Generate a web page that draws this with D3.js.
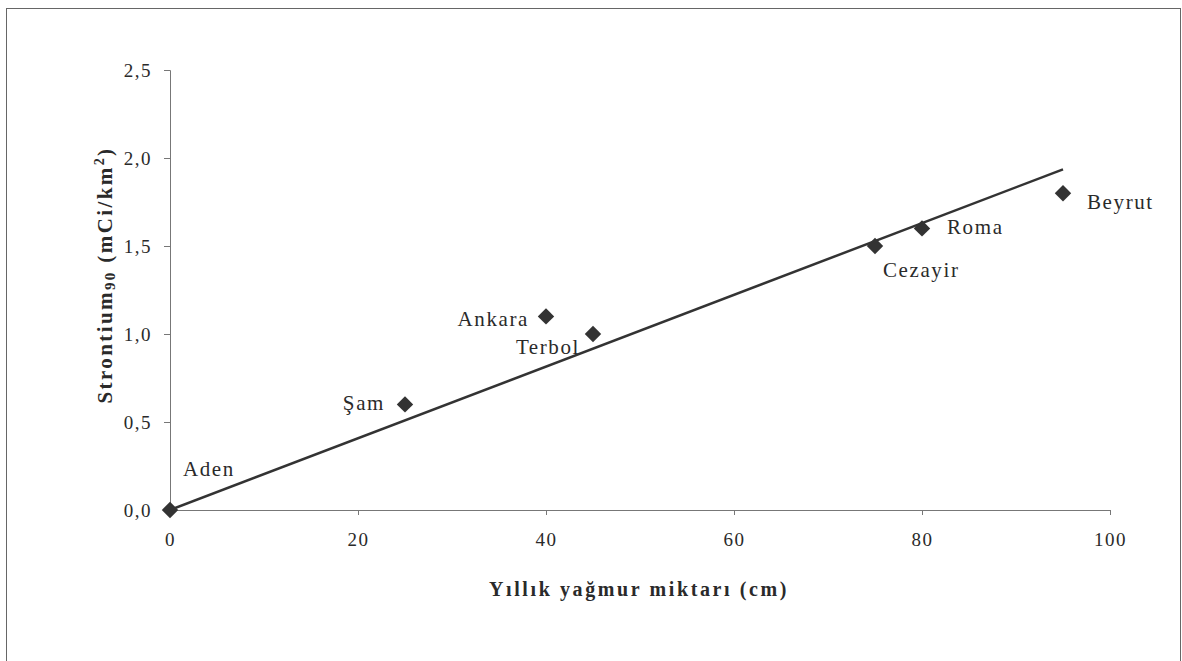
<!DOCTYPE html>
<html>
<head>
<meta charset="utf-8">
<script src="https://cdn.jsdelivr.net/npm/d3@7/dist/d3.min.js"></script>
<style>
  html, body { margin: 0; padding: 0; background: #fff; }
  svg { display: block; }
  text { font-family: "Liberation Serif", "Times New Roman", serif; fill: #2a2a2a; }
</style>
</head>
<body>
<svg id="chart" width="1182" height="661"></svg>
<script>
// ---- data ----
const cities    = ["Aden", "Şam", "Ankara", "Terbol", "Cezayir", "Roma", "Beyrut"];
const rainfall  = [0, 25, 40, 45, 75, 80, 95];          // Yıllık yağmur miktarı (cm)
const strontium = [0.0, 0.6, 1.1, 1.0, 1.5, 1.6, 1.8];  // Strontium90 (mCi/km2)
const xTicks = [0, 20, 40, 60, 80, 100];
const yTicks = [0, 0.5, 1.0, 1.5, 2.0, 2.5];
const trendX = [0, 95];

// label placement (offsets from marker, px) and anchors
const labelPos = {
  "Aden":    {dx: 13,  dy: -34, anchor: "start"},
  "Şam":     {dx: -20, dy: 6,   anchor: "end"},
  "Ankara":  {dx: -17, dy: 10,  anchor: "end"},
  "Terbol":  {dx: -13, dy: 20,  anchor: "end"},
  "Cezayir": {dx: 8,   dy: 31,  anchor: "start"},
  "Roma":    {dx: 25,  dy: 6,   anchor: "start"},
  "Beyrut":  {dx: 24,  dy: 16,  anchor: "start"}
};

const svg = d3.select("#chart");

// outer frame
svg.append("rect")
  .attr("x", 6.5).attr("y", 8.5)
  .attr("width", 1174).attr("height", 670)
  .attr("fill", "none").attr("stroke", "#666").attr("stroke-width", 1);

const x = d3.scaleLinear().domain([0, 100]).range([170, 1110]);
const y = d3.scaleLinear().domain([0, 2.5]).range([510, 70]);

const fmt = d => d3.format(".1f")(d).replace(".", ",");

// x axis
const gx = svg.append("g").attr("transform", `translate(0,${y(0)})`)
  .call(d3.axisBottom(x).tickValues(xTicks).tickSize(5).tickPadding(18).tickFormat(d3.format("d")));
gx.select(".domain").attr("stroke", "#777");
gx.selectAll(".tick line").attr("stroke", "#777");
gx.selectAll(".tick text")
  .style("font-family", "Liberation Serif").style("font-size", "19px")
  .style("letter-spacing", "1.5px").attr("fill", "#2a2a2a");

// y axis
const gy = svg.append("g").attr("transform", `translate(${x(0)},0)`)
  .call(d3.axisLeft(y).tickValues(yTicks).tickSize(6).tickPadding(12).tickFormat(fmt));
gy.select(".domain").attr("stroke", "#777");
gy.selectAll(".tick line").attr("stroke", "#777");
gy.selectAll(".tick text")
  .style("font-family", "Liberation Serif").style("font-size", "19px")
  .style("letter-spacing", "1.5px").attr("fill", "#2a2a2a");

// trend line (least squares through origin)
let sxy = 0, sxx = 0;
rainfall.forEach((r, i) => { sxy += r * strontium[i]; sxx += r * r; });
const slope = sxy / sxx;
svg.append("path")
  .datum(trendX)
  .attr("d", d3.line().x(d => x(d)).y(d => y(slope * d)))
  .attr("fill", "none").attr("stroke", "#333").attr("stroke-width", 2.5);

// markers
const diamond = d3.symbol().type(d3.symbolSquare).size(135);
svg.append("g").selectAll("path")
  .data(cities)
  .join("path")
  .attr("d", diamond)
  .attr("transform", (c, i) => `translate(${x(rainfall[i])},${y(strontium[i])}) rotate(45)`)
  .attr("fill", "#333");

// labels
svg.append("g").selectAll("text")
  .data(cities)
  .join("text")
  .attr("x", (c, i) => x(rainfall[i]) + labelPos[c].dx)
  .attr("y", (c, i) => y(strontium[i]) + labelPos[c].dy)
  .attr("text-anchor", c => labelPos[c].anchor)
  .style("font-size", "21px")
  .style("letter-spacing", "1.6px")
  .text(c => c);

// x title
svg.append("text")
  .attr("x", 639).attr("y", 596)
  .attr("text-anchor", "middle")
  .style("font-size", "20px").style("font-weight", "bold")
  .style("letter-spacing", "2.6px")
  .text("Yıllık yağmur miktarı (cm)");

// y title
const yt = svg.append("text")
  .attr("transform", "translate(112,275) rotate(-90)")
  .attr("text-anchor", "middle")
  .style("font-size", "21px").style("font-weight", "bold")
  .style("letter-spacing", "2.4px");
yt.append("tspan").text("Strontium");
yt.append("tspan").attr("dy", 3).style("font-size", "15px").text("90");
yt.append("tspan").attr("dy", -3).text(" (mCi/km");
yt.append("tspan").attr("dy", -8).style("font-size", "14px").text("2");
yt.append("tspan").attr("dy", 8).text(")");
</script>
</body>
</html>
